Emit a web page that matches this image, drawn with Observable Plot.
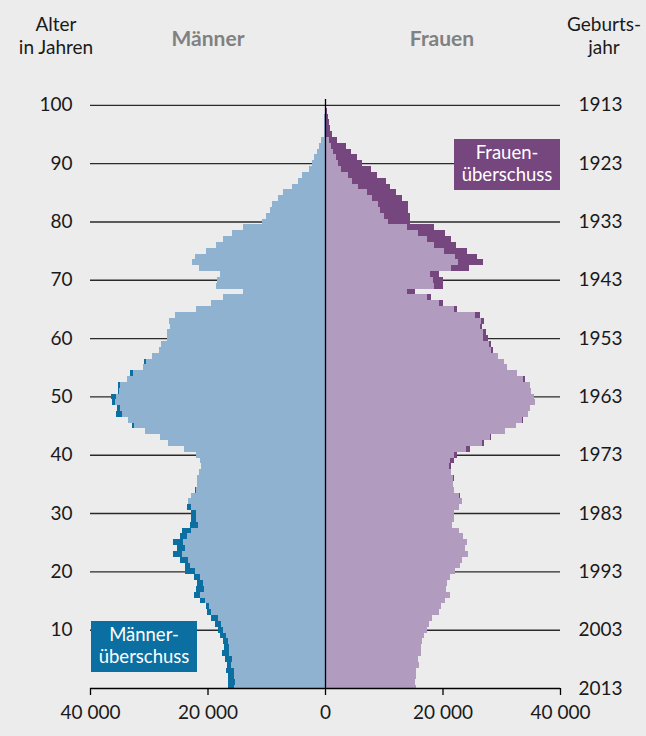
<!DOCTYPE html>
<html><head><meta charset="utf-8">
<script src="https://cdn.jsdelivr.net/npm/d3@7"></script>
<script src="https://cdn.jsdelivr.net/npm/@observablehq/plot@0.6"></script>
<style>
body{margin:0;background:#fff;}
#wrap{position:relative;width:646px;height:736px;background:#ececec;font-family:Lato,sans-serif;overflow:hidden}
#chart{position:absolute;left:0;top:0}
.hd{position:absolute;text-align:center;font-size:19px;line-height:23px;color:#1a1a1a;width:100px}
.sex{position:absolute;font-weight:bold;font-size:21px;line-height:24px;color:#818181;text-align:center;width:120px}
.box{position:absolute;color:#fff;font-size:18.5px;line-height:22px;text-align:center;padding-top:2px;box-sizing:border-box;width:106px;height:51px}
</style></head>
<body>
<div id="wrap">
  <div id="chart"></div>
  <div class="hd" style="left:6px;top:12px">Alter<br>in Jahren</div>
  <div class="sex" style="left:148px;top:26px">Männer</div>
  <div class="sex" style="left:382px;top:26px">Frauen</div>
  <div class="hd" style="left:554px;top:12px">Geburts-<br>jahr</div>
  <div class="box" style="left:454px;top:139px;background:#76467e">Frauen-<br>überschuss</div>
  <div class="box" style="left:91px;top:621px;background:#0b70a1">Männer-<br>überschuss</div>
</div>
<script>
// ages 0..100
const ages = d3.range(0, 101);
const men = [16430,16430,16430,16770,16600,16940,17450,17110,17280,17790,
  18130,18640,19320,20170,20340,21360,22380,22040,21870,22380,
  23750,23750,24600,25790,25110,25790,24600,24260,23060,22890,
  22890,23570,23400,22890,22150,21870,21760,21530,21190,21360,
  22040,23920,26640,28170,30720,32770,33450,35490,35320,36340,
  36510,35150,35150,33620,33110,31060,30890,29530,28340,27830,
  26810,26810,26300,26470,25450,22040,19320,17280,14040,18470,
  18300,17790,21530,22720,22210,20340,18470,17280,15750,14040,
  10640,9960,9280,8940,7920,7230,5700,4680,3830,2640,
  2130,1790,1280,940,600,255,255,150,90,50,20];
const women = [15570,15400,15570,15570,15920,15750,16260,16260,16430,16770,
  17280,17620,18130,19320,19660,20510,21360,20680,20850,21360,
  22210,23060,23400,24260,23750,24090,23570,22890,21700,22040,
  22040,22890,23400,23060,22040,21870,22040,21530,21530,22040,
  22550,24600,26980,28340,30720,32430,33620,34470,34810,35660,
  35490,34980,34810,33960,32600,31060,30550,29530,28680,28340,
  27660,27320,26640,26980,26300,22550,20170,17960,15400,20000,
  20000,19320,24430,26810,25790,24090,22380,21530,20510,18470,
  14550,14550,14210,14210,13190,12170,10980,10300,8770,7750,
  6380,5530,4510,3490,1960,1110,770,660,430,400,250];
const ageTicks = [10,20,30,40,50,60,70,80,90,100];
const yearAges = [0,10,20,30,40,50,60,70,80,90,100];
const yearLabels = ["2013","2003","1993","1983","1973","1963","1953","1943","1933","1923","1913"];
const xTicks = [-40000,-20000,0,20000,40000];
const xTickLabels = ["40\u00a0000","20\u00a0000","0","20\u00a0000","40\u00a0000"];

const C = {lb:"#8fb2d1", db:"#0b70a1", lp:"#b19bbf", dp:"#76467e"};
const rows = ages.map((a,i) => ({age:a, m:men[i], f:women[i], lo:Math.min(men[i],women[i])}));
const mSur = rows.filter(d => d.m > d.f);
const fSur = rows.filter(d => d.f > d.m);
const band = {y1: d => d.age - 0.5, y2: d => d.age + 0.5, inset:0, clip:true, shapeRendering:"crispEdges"};

const plot = Plot.plot({
  width: 646, height: 736,
  marginTop: 99, marginBottom: 48, marginLeft: 90, marginRight: 86,
  style: {background:"transparent", fontFamily:"Lato, sans-serif", fontSize:"19px", color:"#1a1a1a"},
  x: {domain:[-40000,40000]},
  y: {domain:[0,101]},
  marks: [
    Plot.ruleY(ageTicks, {x1:-40000, x2:40000, stroke:"#2a2a2a", strokeWidth:1.4}),
    Plot.rect(rows, {...band, x1:0, x2: d => -d.lo, fill:C.lb}),
    Plot.rect(mSur, {...band, x1: d => -d.lo, x2: d => -d.m, fill:C.db}),
    Plot.rect(rows, {...band, x1:0, x2: d => d.lo, fill:C.lp}),
    Plot.rect(fSur, {...band, x1: d => d.lo, x2: d => d.f, fill:C.dp}),
    Plot.ruleX([0], {y1:0, y2:101, stroke:"#000", strokeWidth:1.3}),
    Plot.ruleY([0], {x1:-40000, x2:40000, stroke:"#000", strokeWidth:1.3}),
    Plot.axisX(xTicks, {anchor:"bottom", tickSize:7, tickPadding:10, strokeWidth:1.3, stroke:"#000",
      tickFormat:(d) => xTickLabels[xTicks.indexOf(d)], fontSize:19, label:null}),
    Plot.axisY(ageTicks, {anchor:"left", tickSize:0, tickPadding:18, fontSize:19, label:null}),
    Plot.axisY(yearAges, {anchor:"right", tickSize:0, tickPadding:18, fontSize:19, label:null,
      tickFormat:(d) => yearLabels[yearAges.indexOf(d)]})
  ]
});
document.getElementById("chart").appendChild(plot);
</script>
</body></html>
